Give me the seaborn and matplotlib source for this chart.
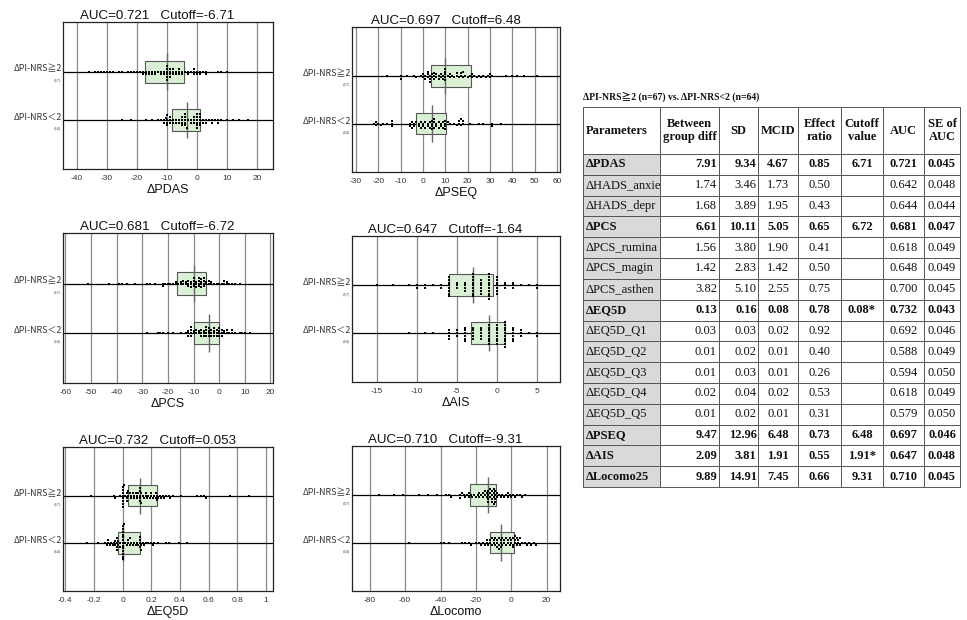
import numpy as np
import pandas as pd
import matplotlib
matplotlib.use("Agg")
import matplotlib.pyplot as plt
import seaborn as sns
from matplotlib.transforms import blended_transform_factory

sns.set_theme(style="white")
plt.rcParams["font.family"] = ["Liberation Sans", "DejaVu Sans"]
plt.rcParams["axes.unicode_minus"] = False

# ---------------- data ----------------
groups = ["ΔPI-NRS≧2", "ΔPI-NRS＜2"]
group_n = ["(67)", "(64)"]

pdas_ge2 = [-36, -34, -33, -32, -31, -30, -29, -28, -26, -25, -23, -22, -21, -20, -19, -18, -18,
            -17, -17, -16, -16, -15, -15, -14, -14, -13, -12, -12, -11, -11, -10, -10, -10,
            -10, -10, -10, -9, -9, -9, -9, -8, -8, -8, -7, -7, -6, -6, -6, -5, -5,
            -4, -3, -3, -2, -1, -1, -1, 0, 0, 1, 1, 2, 3, 3, 7, 8, 10]
pdas_lt2 = [-25, -22, -17, -15, -13, -12, -11, -11, -10.5, -10, -10, -10, -10, -9, -9, -9,
            -8, -8, -7, -7, -6, -6, -5, -5, -5, -5, -4, -4, -4, -4, -4, -3.5,
            -3, -2, -2, -1, -1, -1, 0, 0, 0, 0, 0, 0, 1, 1, 1, 1,
            1, 2, 2, 3, 3, 4, 5, 5, 6, 7, 7, 8, 10, 12, 14, 17]

pseq_ge2 = [-16, -10, -10, -7, -4, -3, -1, 0, 0, 1, 1, 2, 2, 2, 3, 3, 3,
            4, 4, 5, 5, 5, 6, 6, 7, 7, 8, 8, 9, 9, 10, 10, 10,
            10, 10, 11, 12, 12, 13, 14, 15, 15, 16, 17, 17, 18, 18, 19, 20, 21,
            22, 22, 23, 24, 25, 26, 27, 28, 29, 30, 30, 31, 37, 40, 42, 45, 51]
pseq_lt2 = [-22, -21, -21, -20, -19, -18, -16, -14, -14, -14, -6, -6, -5, -5, -4, -4,
            -3, -2, -2, -1, -1, 0, 0, 1, 1, 2, 2, 3, 3, 4, 4, 4,
            4, 5, 5, 5, 6, 6, 7, 7, 8, 8, 9, 9, 10, 10, 10, 10,
            11, 12, 14, 15, 16, 16, 17, 17, 18, 18, 21, 25, 27, 31, 31, 35]

pcs_ge2 = [-51, -43, -39, -38, -36, -33, -28, -27, -25, -22, -22, -21, -20, -19, -18, -17, -17,
           -16, -15, -15, -14, -14, -13, -13, -12, -12, -12, -11, -11, -11, -10, -10, -10,
           -10, -9, -9, -9, -8, -8, -8, -8, -7, -7, -7, -7, -6, -6, -6, -6, -5,
           -5, -4, -4, -3, -3, -2, -1, 0, 1, 2, 2, 3, 3, 4, 5, 6, 8]
pcs_lt2 = [-28, -24, -23, -22, -20, -18, -15, -13, -12, -12, -12, -11, -11, -11, -11, -10,
           -10, -9, -9, -8, -8, -7, -7, -7, -6, -6, -6, -5, -5, -5, -5, -4,
           -4, -4, -4, -3, -3, -3, -2, -2, -2, -2, -1, -1, -1, 0, 0, 0,
           0, 1, 1, 1, 2, 2, 3, 3, 4, 5, 5, 6, 8, 9, 10, 12]

ais_ge2 = [-15, -13, -11, -10, -10, -9, -9, -8, -7, -7, -6, -6, -6, -6, -6, -6, -6,
           -6, -5, -5, -5, -4, -4, -4, -4, -3, -3, -3, -3, -3, -3, -3, -3,
           -3, -2, -2, -2, -2, -2, -2, -1, -1, -1, -1, -1, -1, -1, -1, -1, -1,
           0, 0, 0, 0, 0, 0, 0, 1, 1, 1, 2, 2, 2, 3, 4, 5, 5]
ais_lt2 = [-11, -9, -8, -6, -6, -6, -6, -5, -5, -5, -4, -4, -4, -4, -4, -4,
           -3, -3, -3, -3, -3, -2, -2, -2, -2, -2, -1, -1, -1, -1, -1, -1,
           -1, -1, 0, 0, 0, 0, 0, 0, 0, 0, 1, 1, 1, 1, 1, 1,
           1, 1, 1, 1, 2, 2, 2, 2, 2, 2, 3, 3, 3, 4, 5, 5]

eq5d_ge2 = [-0.22, -0.06, -0.05, -0.02, 0, 0, 0, 0, 0, 0, 0, 0, 0.01, 0.02, 0.03, 0.03, 0.03,
            0.04, 0.04, 0.05, 0.06, 0.06, 0.07, 0.08, 0.08, 0.09, 0.1, 0.1, 0.11, 0.12, 0.12, 0.12, 0.12,
            0.12, 0.13, 0.13, 0.14, 0.15, 0.16, 0.16, 0.17, 0.18, 0.19, 0.2, 0.2, 0.21, 0.22, 0.23, 0.23, 0.24,
            0.24, 0.25, 0.26, 0.27, 0.28, 0.29, 0.3, 0.32, 0.33, 0.35, 0.41, 0.52, 0.55, 0.57, 0.58, 0.75, 0.88]
eq5d_lt2 = [-0.25, -0.17, -0.12, -0.11, -0.1, -0.1, -0.09, -0.08, -0.07, -0.06, -0.05, -0.05, -0.04, -0.04, -0.04, -0.04,
            -0.03, -0.03, -0.02, -0.02, 0, 0, 0, 0, 0, 0, 0, 0, 0, 0, 0, 0,
            0, 0.01, 0.02, 0.03, 0.04, 0.04, 0.05, 0.05, 0.06, 0.07, 0.08, 0.09, 0.1, 0.11, 0.12, 0.12,
            0.12, 0.12, 0.13, 0.13, 0.14, 0.15, 0.16, 0.18, 0.2, 0.21, 0.22, 0.25, 0.3, 0.32, 0.39, 0.45]

locomo_ge2 = [-75, -66, -61, -52, -47, -42, -37, -35, -34, -29, -29, -28, -27, -26, -25, -24, -24,
              -23, -22, -21, -20, -19, -18, -18, -17, -16, -16, -15, -15, -14, -14, -13, -13,
              -13, -13, -12, -12, -12, -11, -11, -11, -11, -10, -10, -10, -10, -9, -9, -9, -9,
              -8, -8, -7, -6, -5, -4, -3, -2, -2, -1, 0, 1, 2, 3, 5, 6, 8]
locomo_lt2 = [-58, -40, -38, -35, -28, -26, -24, -23, -20, -18, -17, -16, -15, -14, -14, -13,
              -12, -12, -11, -11, -10, -10, -9, -9, -8, -8, -8, -7, -7, -7, -6, -6,
              -6, -5, -5, -4, -4, -3, -3, -2, -2, -1, -1, 0, 0, 1, 1, 1,
              2, 2, 2, 3, 3, 4, 4, 5, 5, 6, 8, 9, 10, 11, 13, 14]

panel_names = ["ΔPDAS", "ΔPSEQ", "ΔPCS", "ΔAIS", "ΔEQ5D", "ΔLocomo"]
panel_auc = ["0.721", "0.697", "0.681", "0.647", "0.732", "0.710"]
panel_cutoff = ["-6.71", "6.48", "-6.72", "-1.64", "0.053", "-9.31"]
panel_ge2 = [pdas_ge2, pseq_ge2, pcs_ge2, ais_ge2, eq5d_ge2, locomo_ge2]
panel_lt2 = [pdas_lt2, pseq_lt2, pcs_lt2, ais_lt2, eq5d_lt2, locomo_lt2]
panel_ticks = [
    [-40, -30, -20, -10, 0, 10, 20],
    [-30, -20, -10, 0, 10, 20, 30, 40, 50, 60],
    [-60, -50, -40, -30, -20, -10, 0, 10, 20],
    [-15, -10, -5, 0, 5],
    [-0.4, -0.2, 0, 0.2, 0.4, 0.6, 0.8, 1],
    [-80, -60, -40, -20, 0, 20],
]
panel_ticklabels = [
    None, None, None, None,
    ["-0.4", "-0.2", "0", "0.2", "0.4", "0.6", "0.8", "1"],
    None,
]

# table data
tbl_params = ["ΔPDAS", "ΔHADS_anxie", "ΔHADS_depr", "ΔPCS", "ΔPCS_rumina", "ΔPCS_magin",
              "ΔPCS_asthen", "ΔEQ5D", "ΔEQ5D_Q1", "ΔEQ5D_Q2", "ΔEQ5D_Q3", "ΔEQ5D_Q4",
              "ΔEQ5D_Q5", "ΔPSEQ", "ΔAIS", "ΔLocomo25"]
tbl_between = ["7.91", "1.74", "1.68", "6.61", "1.56", "1.42", "3.82", "0.13", "0.03", "0.01",
               "0.01", "0.02", "0.01", "9.47", "2.09", "9.89"]
tbl_sd = ["9.34", "3.46", "3.89", "10.11", "3.80", "2.83", "5.10", "0.16", "0.03", "0.02",
          "0.03", "0.04", "0.02", "12.96", "3.81", "14.91"]
tbl_mcid = ["4.67", "1.73", "1.95", "5.05", "1.90", "1.42", "2.55", "0.08", "0.02", "0.01",
            "0.01", "0.02", "0.01", "6.48", "1.91", "7.45"]
tbl_effect = ["0.85", "0.50", "0.43", "0.65", "0.41", "0.50", "0.75", "0.78", "0.92", "0.40",
              "0.26", "0.53", "0.31", "0.73", "0.55", "0.66"]
tbl_cutoff = ["6.71", "", "", "6.72", "", "", "", "0.08*", "", "", "", "", "", "6.48", "1.91*", "9.31"]
tbl_auc = ["0.721", "0.642", "0.644", "0.681", "0.618", "0.648", "0.700", "0.732", "0.692",
           "0.588", "0.594", "0.618", "0.579", "0.697", "0.647", "0.710"]
tbl_se = ["0.045", "0.048", "0.044", "0.047", "0.049", "0.049", "0.045", "0.043", "0.046",
          "0.049", "0.050", "0.049", "0.050", "0.046", "0.048", "0.045"]
tbl_bold = [True, False, False, True, False, False, False, True, False, False, False, False,
            False, True, True, True]
tbl_header = ["Parameters", "Between\ngroup diff", "SD", "MCID", "Effect\nratio",
              "Cutoff\nvalue", "AUC", "SE of\nAUC"]
tbl_title = "ΔPI-NRS≧2 (n=67) vs. ΔPI-NRS<2 (n=64)"

# ---------------- layout ----------------
W, H = 967, 620
fig = plt.figure(figsize=(W / 100, H / 100), dpi=100)
fig.patch.set_facecolor("white")


def px_axes(l, t, r, b):
    return fig.add_axes([l / W, 1 - b / H, (r - l) / W, (b - t) / H])


panel_boxes = [(63, 22, 273, 169), (352, 27, 560, 172),
               (63, 233, 273, 383), (352, 236, 560, 382),
               (63, 447, 273, 591), (352, 446, 560, 591)]
panel_xlims = [(-44.7, 25.3), (-31.8, 61.3), (-60.9, 21.0), (-18.1, 7.9),
               (-0.416, 1.049), (-90, 27.5)]

label_font = ["Noto Sans CJK JP", "DejaVu Sans"]

for k in range(6):
    ge2, lt2 = panel_ge2[k], panel_lt2[k]
    df = pd.DataFrame({"val": list(ge2) + list(lt2),
                       "grp": [groups[0]] * len(ge2) + [groups[1]] * len(lt2)})
    ax = px_axes(*panel_boxes[k])
    ax.set_facecolor("white")
    sns.boxplot(data=df, x="val", y="grp", order=groups, orient="h", whis=0,
                showfliers=False, showcaps=False, width=0.46, color="#daf0d4",
                saturation=1, linecolor="#555555", linewidth=0.8,
                medianprops=dict(linewidth=0), whiskerprops=dict(linewidth=0),
                ax=ax, zorder=2)
    sns.swarmplot(data=df, x="val", y="grp", order=groups, orient="h", color="black",
                  marker="s", size=1.9, linewidth=0, ax=ax, zorder=4)
    meds = [np.median(ge2), np.median(lt2)]
    ax.vlines(meds, [i - 0.38 for i in range(2)], [i + 0.38 for i in range(2)],
              color="#666666", lw=1.0, zorder=3)
    for i in range(2):
        ax.axhline(i, color="black", lw=0.9, zorder=1)
    ax.set_xticks(panel_ticks[k])
    if panel_ticklabels[k] is not None:
        ax.set_xticklabels(panel_ticklabels[k])
    ax.grid(axis="x", color="#8a8a8a", lw=0.9, zorder=0)
    ax.grid(axis="y", visible=False)
    ax.set_axisbelow(True)
    ax.set_xlim(*panel_xlims[k])
    ax.set_ylim(2.02, -1.03)
    ax.set_yticks([0, 1])
    ax.set_yticklabels(["", ""])
    ax.tick_params(axis="both", length=0)
    ax.tick_params(axis="x", labelsize=6, pad=4.5, colors="#333333")
    for s in ax.spines.values():
        s.set_visible(True)
        s.set_color("#222222")
        s.set_linewidth(0.9)
    ax.set_ylabel("")
    ax.set_xlabel(panel_names[k], fontsize=9, labelpad=1.5, color="#111111")
    ax.set_title(f"AUC={panel_auc[k]}   Cutoff={panel_cutoff[k]}", fontsize=9.6,
                 x=0.45, pad=2, color="#111111")
    tr = blended_transform_factory(ax.transAxes, ax.transData)
    for i in range(2):
        ax.text(-0.005, i - 0.05, groups[i], transform=tr, ha="right", va="center",
                fontsize=6.4, family=label_font, color="#333333")
        ax.text(-0.01, i + 0.18, group_n[i], transform=tr, ha="right", va="center",
                fontsize=3, family=label_font, color="#555555")

# ---------------- table ----------------
tax = px_axes(583, 107, 960, 487)
tax.axis("off")
col_w = np.array([77, 59, 39, 40, 43, 42, 41, 36], dtype=float)
col_w = col_w / col_w.sum()
cell_text = [[tbl_params[i], tbl_between[i], tbl_sd[i], tbl_mcid[i], tbl_effect[i],
              tbl_cutoff[i], tbl_auc[i], tbl_se[i]] for i in range(len(tbl_params))]
tbl = tax.table(cellText=cell_text, colLabels=tbl_header, colWidths=list(col_w),
                bbox=[0, 0, 1, 1], cellLoc="center")
tbl.auto_set_font_size(False)
tbl.set_fontsize(9.0)
for (r, c), cell in tbl.get_celld().items():
    cell.set_edgecolor("#555555")
    cell.set_linewidth(0.7)
    cell.set_height(47 if r == 0 else 20.8)
    cell.PAD = 0.035
    txt = cell.get_text()
    txt.set_fontfamily("Liberation Serif")
    txt.set_color("#111111")
    if r == 0:
        txt.set_fontweight("bold")
        if c == 0:
            txt.set_horizontalalignment("left")
    else:
        if tbl_bold[r - 1]:
            txt.set_fontweight("bold")
        if c == 0:
            cell.set_facecolor("#d9d9d9")
            txt.set_horizontalalignment("left")
        elif c in (1, 2):
            txt.set_horizontalalignment("right")

fig.text(583 / W, 1 - 97 / H, tbl_title, fontsize=7, fontweight="bold",
         family=["Liberation Serif", "Noto Sans CJK JP"], ha="left", va="center",
         color="#111111")

fig.savefig("out.png", dpi=100, facecolor="white")
